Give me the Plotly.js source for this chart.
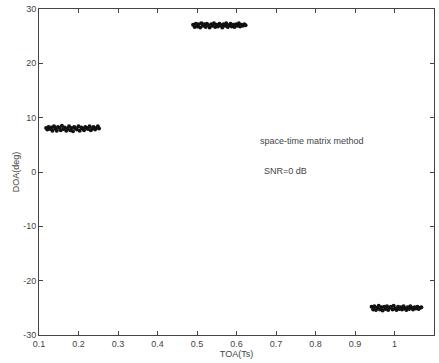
<!DOCTYPE html>
<html><head><meta charset="utf-8">
<script src="https://cdn.plot.ly/plotly-3.0.1.min.js"></script>
<style>html,body{margin:0;padding:0;background:#fff}#c{width:439px;height:363px}</style>
</head><body><div id="c"></div>
<script>
const toa1 = [0.118,0.121,0.124,0.128,0.131,0.134,0.138,0.141,0.145,0.148,0.152,0.155,0.158,0.162,0.165,0.169,0.172,0.176,0.179,0.183,0.186,0.189,0.193,0.196,0.200,0.203,0.207,0.210,0.214,0.217,0.221,0.224,0.228,0.231,0.235,0.238,0.242,0.245,0.249,0.252];
const doa1 = [8.1,7.8,8.3,7.9,8.2,7.6,8.4,8.0,7.6,8.3,8.1,7.7,8.5,7.9,8.2,7.6,8.0,8.4,7.7,8.1,7.5,8.3,8.0,7.8,8.4,7.6,8.2,8.0,7.7,8.3,8.1,7.9,8.4,7.7,8.0,8.3,7.8,8.1,8.4,8.0];
const toa2 = [0.490,0.494,0.497,0.501,0.504,0.508,0.511,0.515,0.518,0.522,0.525,0.529,0.532,0.536,0.539,0.543,0.546,0.550,0.553,0.557,0.560,0.564,0.567,0.571,0.574,0.578,0.581,0.585,0.588,0.592,0.595,0.599,0.602,0.606,0.609,0.613,0.616,0.620,0.623];
const doa2 = [27.1,26.7,27.3,26.8,27.2,26.6,27.4,26.9,27.2,26.7,27.3,27.0,26.6,27.2,26.9,27.4,26.7,27.1,26.8,27.3,27.0,26.6,27.2,26.9,27.4,26.7,27.0,27.3,26.8,27.1,26.7,27.2,26.9,27.4,26.8,27.1,26.9,27.2,27.0];
const toa3 = [0.942,0.946,0.949,0.953,0.956,0.960,0.963,0.967,0.970,0.974,0.977,0.981,0.984,0.988,0.991,0.995,0.998,1.002,1.005,1.009,1.012,1.016,1.019,1.023,1.026,1.030,1.033,1.037,1.040,1.044,1.047,1.051,1.054,1.058,1.061,1.065,1.068];
const doa3 = [-24.8,-25.3,-24.7,-25.4,-25.0,-24.6,-25.3,-24.9,-25.5,-24.8,-25.2,-24.7,-25.4,-25.0,-24.8,-25.3,-24.6,-25.1,-25.4,-24.8,-25.2,-24.9,-25.3,-24.7,-25.1,-25.4,-24.9,-25.2,-24.7,-25.0,-25.3,-24.9,-25.1,-24.8,-25.2,-25.0,-24.9];
const xTicks = [0.1,0.2,0.3,0.4,0.5,0.6,0.7,0.8,0.9,1,1.1];
const xTickText = ["0.1","0.2","0.3","0.4","0.5","0.6","0.7","0.8","0.9","1","1.1"];
const yTicks = [-30,-20,-10,0,10,20,30];
const yTickText = ["-30","-20","-10","0","10","20","30"];

const mk = {color:'#111', size:4, symbol:'circle'};
const traces = [
  {x:toa1, y:doa1, mode:'markers', type:'scatter', marker:mk, hoverinfo:'none'},
  {x:toa2, y:doa2, mode:'markers', type:'scatter', marker:mk, hoverinfo:'none'},
  {x:toa3, y:doa3, mode:'markers', type:'scatter', marker:mk, hoverinfo:'none'}
];
const axBase = {showline:true, mirror:'ticks', linecolor:'#444', linewidth:1, ticks:'inside', ticklen:4, tickcolor:'#444', showgrid:false, zeroline:false, tickfont:{family:'Liberation Sans, Arial', size:9, color:'#444'}};
const layout = {
  width:439, height:363, margin:{l:39, r:5, t:9, b:28},
  paper_bgcolor:'#fff', plot_bgcolor:'#fff', showlegend:false,
  font:{family:'Liberation Sans, Arial', size:9, color:'#444'},
  xaxis: Object.assign({}, axBase, {range:[0.1,1.1], tickvals:xTicks, ticktext:xTickText, title:{text:'TOA(Ts)', standoff:0, font:{size:9, color:'#444'}}}),
  yaxis: Object.assign({}, axBase, {range:[-30,30], tickvals:yTicks, ticktext:yTickText, title:{text:'DOA(deg)', standoff:2, font:{size:9, color:'#444'}}}),
  annotations:[
    {x:0.655, y:5.7, xref:'x', yref:'y', text:'space-time matrix method', showarrow:false, xanchor:'left', font:{size:9, color:'#444'}},
    {x:0.665, y:0.2, xref:'x', yref:'y', text:'SNR=0 dB', showarrow:false, xanchor:'left', font:{size:9, color:'#444'}}
  ]
};
Plotly.newPlot('c', traces, layout, {staticPlot:true});
</script></body></html>
